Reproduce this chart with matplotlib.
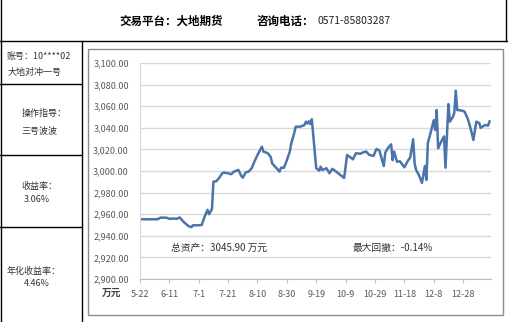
import matplotlib.pyplot as plt
from matplotlib.lines import Line2D
from matplotlib.patches import Rectangle

plt.rcParams['font.family'] = ['Noto Sans CJK SC', 'DejaVu Sans']

# days after 5-22 and total assets (万元)
days = [0, 7, 12, 14, 18, 20, 22, 25, 27, 30, 33, 35, 36, 39, 42, 44, 46, 47, 49, 50,
        52, 54, 56, 57, 60, 62, 64, 67, 69, 70, 72, 74, 76, 78, 80, 83, 84, 87, 89, 90,
        93, 95, 96, 98, 100, 102, 103, 105, 106, 109, 112, 113, 114, 115, 116, 117, 120, 122, 123, 124,
        127, 129, 131, 134, 137, 139, 141, 143, 145, 147, 150, 152, 154, 156, 159, 161, 163, 166, 167, 169,
        171, 172, 173, 175, 177, 180, 182, 184, 186, 187, 188, 190, 192, 194, 195, 196, 198, 200, 201, 202,
        203, 205, 207, 208, 210, 211, 213, 214, 215, 216, 219, 221, 223, 225, 227, 229, 231, 232, 235, 237, 238]
assets = [2955.3, 2955.3, 2955.3, 2956.8, 2956.8, 2955.7, 2956.0, 2955.7, 2957.0, 2952.5,
          2949.0, 2948.0, 2949.7, 2949.7, 2950.0, 2957.7, 2964.0, 2960.0, 2964.8, 2990.0,
          2990.6, 2993.8, 2997.9, 2998.5, 2997.9, 2997.0, 2999.4, 3001.0, 2995.4, 2993.8,
          2998.8, 2999.4, 3002.5, 3009.0, 3014.8, 3022.5, 3018.0, 3016.5, 3013.0, 3007.0,
          3002.5, 2999.4, 3003.0, 3003.0, 3010.0, 3018.0, 3025.6, 3035.0, 3041.0, 3041.0,
          3042.6, 3045.7, 3044.0, 3046.0, 3043.5, 3047.9, 3002.5, 3000.4, 3004.0, 3001.0,
          3002.5, 2998.0, 3002.0, 2999.0, 2995.7, 2993.5, 3014.8, 3013.0, 3010.8, 3016.4,
          3016.0, 3017.3, 3018.0, 3015.0, 3014.0, 3020.4, 3019.0, 3004.6, 3017.0, 3021.6,
          3024.7, 3010.0, 3018.0, 3008.6, 3009.0, 3003.4, 3008.6, 3012.7, 3029.4, 3007.0,
          3001.0, 2996.0, 2989.0, 3004.6, 2991.7, 3026.0, 3036.0, 3047.0, 3038.0, 3056.5,
          3021.0, 3027.0, 3032.0, 3003.0, 3062.0, 3045.7, 3050.0, 3053.7, 3074.4, 3056.5,
          3056.0, 3055.0, 3049.0, 3040.0, 3028.7, 3045.7, 3044.4, 3040.0, 3042.6, 3042.0, 3045.9]

tick_days = [0, 20, 40, 60, 80, 100, 120, 140, 160, 180, 200, 220]
tick_labels = ['5-22', '6-11', '7-1', '7-21', '8-10', '8-30', '9-19', '10-9', '10-29', '11-18', '12-8', '12-28']
y_ticks = [2900, 2920, 2940, 2960, 2980, 3000, 3020, 3040, 3060, 3080, 3100]

W, H = 508, 322
fig = plt.figure(figsize=(W / 100, H / 100), dpi=100)


def fx(x):
    return x / W


def fy(y):
    return 1 - y / H


def line(x0, y0, x1, y1, color='black', lw=1.0):
    fig.add_artist(Line2D([fx(x0), fx(x1)], [fy(y0), fy(y1)], color=color, lw=lw))


# table borders
line(0.5, 0, 0.5, H)
line(506, 0, 506, 41)
line(0, 41, W, 41)
line(82, 41, 82, H)
for yy in [84, 155, 227]:
    line(0, yy, 82, yy)

# chart frame
fig.add_artist(Rectangle((fx(88), fy(315)), fx(503) - fx(88), fy(49) - fy(315),
                         fill=False, edgecolor='#8c8c8c', lw=1.0))

# header
fig.text(fx(171), fy(21), '交易平台：大地期货', ha='center', va='center', fontsize=8.3, fontweight='bold')
fig.text(fx(257), fy(21), '咨询电话：', ha='left', va='center', fontsize=8.3, fontweight='bold')
fig.text(fx(318), fy(21), '0571-85803287', ha='left', va='center', fontsize=7.5, color='#222222')

# left column
txt = '#333333'
fig.text(fx(7), fy(56), '账号：10****02', ha='left', va='center', fontsize=6.5, color=txt)
fig.text(fx(8), fy(72), '大地对冲一号', ha='left', va='center', fontsize=6.5, color=txt)
fig.text(fx(22), fy(113), '操作指导：', ha='left', va='center', fontsize=6.5, color=txt)
fig.text(fx(21), fy(131), '三号波波', ha='left', va='center', fontsize=6.5, color=txt)
fig.text(fx(21), fy(186), '收益率：', ha='left', va='center', fontsize=6.5, color=txt)
fig.text(fx(24), fy(200), '3.06%', ha='left', va='center', fontsize=6.5, color=txt)
fig.text(fx(7), fy(271), '年化收益率：', ha='left', va='center', fontsize=6.5, color=txt)
fig.text(fx(24), fy(284), '4.46%', ha='left', va='center', fontsize=6.5, color=txt)

# chart
ax = fig.add_axes([fx(140), fy(279), fx(491) - fx(140), fy(63) - fy(279)])
ax.plot(days, assets, color='#4a74aa', lw=1.8, solid_joinstyle='round')
ax.set_xlim(0, 239)
ax.set_ylim(2900, 3100)
ax.set_yticks(y_ticks)
ax.set_yticklabels([f'{v:,.2f}' for v in y_ticks])
ax.set_xticks(tick_days)
ax.set_xticklabels(tick_labels)
ax.grid(axis='y', color='#d9d9d9', lw=1.0)
ax.set_axisbelow(True)
for s in ['top', 'right']:
    ax.spines[s].set_visible(False)
ax.spines['left'].set_color('#d9d9d9')
ax.spines['bottom'].set_color('#bfbfbf')
ax.tick_params(axis='y', length=0, labelsize=6.5, labelcolor='#595959', pad=8)
ax.tick_params(axis='x', length=3, color='#bfbfbf', labelsize=6.5, labelcolor='#595959', pad=5)

fig.text(fx(112), fy(293), '万元', ha='center', va='center', fontsize=7, fontweight='bold', color='#404040')
fig.text(fx(171), fy(248), '总资产：3045.90 万元', ha='left', va='center', fontsize=7, color='#333333')
fig.text(fx(353), fy(248), '最大回撤：-0.14%', ha='left', va='center', fontsize=7, color='#333333')

fig.savefig('out.png', dpi=100)
